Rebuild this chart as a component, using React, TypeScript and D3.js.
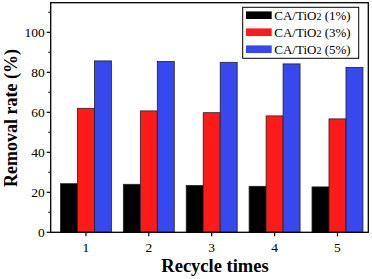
import React from "react";
import * as d3 from "d3";

const cycles = [1, 2, 3, 4, 5];
const seriesNames = ["CA/TiO2 (1%)", "CA/TiO2 (3%)", "CA/TiO2 (5%)"];
const s1 = [24.3, 24.0, 23.4, 23.0, 22.7];
const s3 = [62.0, 60.7, 59.8, 58.2, 56.7];
const s5 = [85.7, 85.4, 85.0, 84.2, 82.4];
const yTicks = [0, 20, 40, 60, 80, 100];
const yMinor = [10, 30, 50, 70, 90, 110];
const colors = ["#000000", "#ff1a1a", "#3648ee"];

export default function App() {
  const W = 372, H = 279;
  const L = 50.7, R = 368.3, T = 2.7, B = 232.3;
  const x = d3.scaleLinear().domain([0.44, 5.49]).range([L, R]);
  const y = d3.scaleLinear().domain([0, 114.8]).range([B, T]);
  const bw = 0.27;
  const data = [s1, s3, s5];
  const font = "'Liberation Serif', 'Times New Roman', serif";
  return (
    <svg width={W} height={H} style={{ position: "absolute", left: 0, top: 0 }} fontFamily={font}>
      <rect width={W} height={H} fill="#fff" />
      {data.map((s, si) =>
        s.map((v, i) => {
          const x0 = x(cycles[i] + (si - 1.5) * bw);
          const x1 = x(cycles[i] + (si - 0.5) * bw);
          return (
            <rect key={si + "-" + i} x={x0} y={y(v)} width={x1 - x0} height={y(0) - y(v)}
              fill={colors[si]} stroke="#222" strokeWidth={0.8} />
          );
        })
      )}
      <rect x={L} y={T} width={R - L} height={B - T} fill="none" stroke="#000" strokeWidth={1.3} />
      {yTicks.map((t) => (
        <g key={t}>
          <line x1={L - 4} x2={L} y1={y(t)} y2={y(t)} stroke="#000" strokeWidth={1.2} />
          <text x={L - 6} y={y(t)} dy="0.35em" textAnchor="end" fontSize={13.5}>{t}</text>
        </g>
      ))}
      {yMinor.map((t) => (
        <line key={t} x1={L - 2.5} x2={L} y1={y(t)} y2={y(t)} stroke="#000" strokeWidth={1} />
      ))}
      {cycles.map((c) => (
        <g key={c}>
          <line x1={x(c)} x2={x(c)} y1={B} y2={B + 4} stroke="#000" strokeWidth={1.2} />
          <text x={x(c)} y={252} textAnchor="middle" fontSize={13.5}>{c}</text>
        </g>
      ))}
      <text x={215} y={272} textAnchor="middle" fontSize={18.5} fontWeight="bold">Recycle times</text>
      <text transform={`translate(17,118) rotate(-90)`} textAnchor="middle" fontSize={18} fontWeight="bold">Removal rate (%)</text>
      <rect x={242.7} y={7.3} width={116} height={51} fill="#fff" stroke="#000" strokeWidth={1} />
      {seriesNames.map((n, i) => {
        const cy = 15.2 + i * 17;
        const m = n.match(/^(CA\/TiO)2(.*)$/);
        return (
          <g key={n}>
            <rect x={246} y={cy - 3.8} width={25.7} height={7.6} fill={colors[i]} />
            <text x={274.3} y={cy} dy="0.35em" fontSize={13}>
              {m ? m[1] : n}
              {m ? <tspan fontSize={10}>2</tspan> : null}
              {m ? m[2] : null}
            </text>
          </g>
        );
      })}
    </svg>
  );
}
